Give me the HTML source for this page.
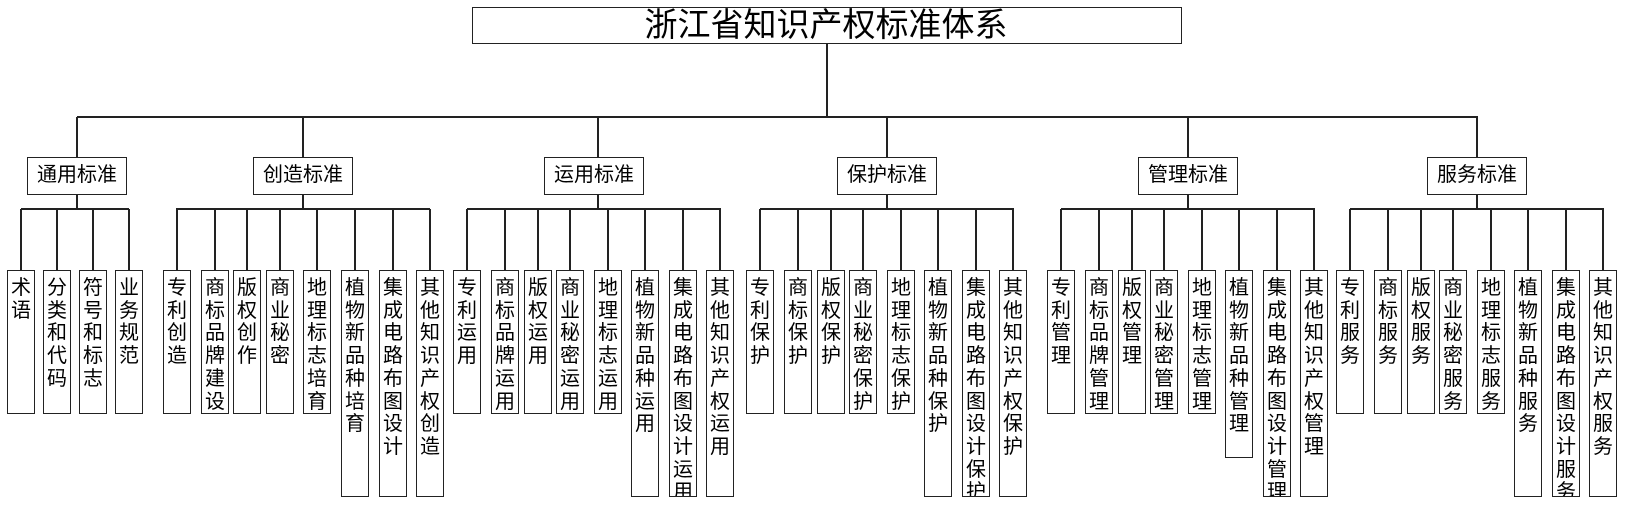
<!DOCTYPE html>
<html><head><meta charset="utf-8"><style>
body{margin:0;width:1626px;height:508px;background:#fff;position:relative;overflow:hidden;font-family:"Liberation Sans","Noto Sans CJK SC",sans-serif;color:#000}
div{position:absolute;box-sizing:border-box}
.b{border:1.5px solid #222;background:#fff}
.h{height:1.5px;background:#222}
.v{width:1.5px;background:#222}
.t{left:472px;top:7px;width:710px;height:37px;font-size:33px;line-height:34px;text-align:center;padding-right:2px}
.c{top:157px;width:100px;height:38px;font-size:20px;line-height:35px;text-align:center}
.l{top:270px;width:28px;font-size:20px;line-height:22.7px;text-align:center;padding-top:6px;word-break:break-all;overflow:hidden}
.s{height:144px}.m{height:188px}.g{height:227px}
</style></head><body>
<div class="b t">浙江省知识产权标准体系</div>
<div class="v" style="left:826px;top:44px;height:73px"></div>
<div class="h" style="left:77px;top:116px;width:1401px"></div>
<div class="v" style="left:76px;top:117px;height:40px"></div>
<div class="v" style="left:302px;top:117px;height:40px"></div>
<div class="v" style="left:597px;top:117px;height:40px"></div>
<div class="v" style="left:886px;top:117px;height:40px"></div>
<div class="v" style="left:1187px;top:117px;height:40px"></div>
<div class="v" style="left:1476px;top:117px;height:40px"></div>
<div class="b c" style="left:27px">通用标准</div>
<div class="b c" style="left:253px">创造标准</div>
<div class="b c" style="left:544px">运用标准</div>
<div class="b c" style="left:837px">保护标准</div>
<div class="b c" style="left:1138px">管理标准</div>
<div class="b c" style="left:1427px">服务标准</div>
<div class="v" style="left:76px;top:195px;height:14px"></div>
<div class="v" style="left:302px;top:195px;height:14px"></div>
<div class="v" style="left:597px;top:195px;height:14px"></div>
<div class="v" style="left:886px;top:195px;height:14px"></div>
<div class="v" style="left:1187px;top:195px;height:14px"></div>
<div class="v" style="left:1476px;top:195px;height:14px"></div>
<div class="h" style="left:21px;top:208px;width:108px"></div>
<div class="h" style="left:176px;top:208px;width:254px"></div>
<div class="h" style="left:467px;top:208px;width:254px"></div>
<div class="h" style="left:760px;top:208px;width:254px"></div>
<div class="h" style="left:1061px;top:208px;width:254px"></div>
<div class="h" style="left:1350px;top:208px;width:254px"></div>
<div class="v" style="left:20px;top:209px;height:61px"></div>
<div class="v" style="left:56px;top:209px;height:61px"></div>
<div class="v" style="left:92px;top:209px;height:61px"></div>
<div class="v" style="left:128px;top:209px;height:61px"></div>
<div class="v" style="left:176px;top:209px;height:61px"></div>
<div class="v" style="left:214px;top:209px;height:61px"></div>
<div class="v" style="left:246px;top:209px;height:61px"></div>
<div class="v" style="left:279px;top:209px;height:61px"></div>
<div class="v" style="left:316px;top:209px;height:61px"></div>
<div class="v" style="left:354px;top:209px;height:61px"></div>
<div class="v" style="left:392px;top:209px;height:61px"></div>
<div class="v" style="left:429px;top:209px;height:61px"></div>
<div class="v" style="left:466px;top:209px;height:61px"></div>
<div class="v" style="left:504px;top:209px;height:61px"></div>
<div class="v" style="left:537px;top:209px;height:61px"></div>
<div class="v" style="left:569px;top:209px;height:61px"></div>
<div class="v" style="left:607px;top:209px;height:61px"></div>
<div class="v" style="left:644px;top:209px;height:61px"></div>
<div class="v" style="left:682px;top:209px;height:61px"></div>
<div class="v" style="left:719px;top:209px;height:61px"></div>
<div class="v" style="left:759px;top:209px;height:61px"></div>
<div class="v" style="left:797px;top:209px;height:61px"></div>
<div class="v" style="left:830px;top:209px;height:61px"></div>
<div class="v" style="left:862px;top:209px;height:61px"></div>
<div class="v" style="left:900px;top:209px;height:61px"></div>
<div class="v" style="left:937px;top:209px;height:61px"></div>
<div class="v" style="left:975px;top:209px;height:61px"></div>
<div class="v" style="left:1012px;top:209px;height:61px"></div>
<div class="v" style="left:1060px;top:209px;height:61px"></div>
<div class="v" style="left:1098px;top:209px;height:61px"></div>
<div class="v" style="left:1131px;top:209px;height:61px"></div>
<div class="v" style="left:1163px;top:209px;height:61px"></div>
<div class="v" style="left:1201px;top:209px;height:61px"></div>
<div class="v" style="left:1238px;top:209px;height:61px"></div>
<div class="v" style="left:1276px;top:209px;height:61px"></div>
<div class="v" style="left:1313px;top:209px;height:61px"></div>
<div class="v" style="left:1349px;top:209px;height:61px"></div>
<div class="v" style="left:1387px;top:209px;height:61px"></div>
<div class="v" style="left:1420px;top:209px;height:61px"></div>
<div class="v" style="left:1452px;top:209px;height:61px"></div>
<div class="v" style="left:1490px;top:209px;height:61px"></div>
<div class="v" style="left:1527px;top:209px;height:61px"></div>
<div class="v" style="left:1565px;top:209px;height:61px"></div>
<div class="v" style="left:1602px;top:209px;height:61px"></div>
<div class="b l s" style="left:7px">术语</div>
<div class="b l s" style="left:43px">分类和代码</div>
<div class="b l s" style="left:79px">符号和标志</div>
<div class="b l s" style="left:115px">业务规范</div>
<div class="b l s" style="left:163px">专利创造</div>
<div class="b l s" style="left:201px">商标品牌建设</div>
<div class="b l s" style="left:233px">版权创作</div>
<div class="b l s" style="left:266px">商业秘密</div>
<div class="b l s" style="left:303px">地理标志培育</div>
<div class="b l g" style="left:341px">植物新品种培育</div>
<div class="b l g" style="left:379px">集成电路布图设计</div>
<div class="b l g" style="left:416px">其他知识产权创造</div>
<div class="b l s" style="left:453px">专利运用</div>
<div class="b l s" style="left:491px">商标品牌运用</div>
<div class="b l s" style="left:524px">版权运用</div>
<div class="b l s" style="left:556px">商业秘密运用</div>
<div class="b l s" style="left:594px">地理标志运用</div>
<div class="b l g" style="left:631px">植物新品种运用</div>
<div class="b l g" style="left:669px">集成电路布图设计运用</div>
<div class="b l g" style="left:706px">其他知识产权运用</div>
<div class="b l s" style="left:746px">专利保护</div>
<div class="b l s" style="left:784px">商标保护</div>
<div class="b l s" style="left:817px">版权保护</div>
<div class="b l s" style="left:849px">商业秘密保护</div>
<div class="b l s" style="left:887px">地理标志保护</div>
<div class="b l g" style="left:924px">植物新品种保护</div>
<div class="b l g" style="left:962px">集成电路布图设计保护</div>
<div class="b l g" style="left:999px">其他知识产权保护</div>
<div class="b l s" style="left:1047px">专利管理</div>
<div class="b l s" style="left:1085px">商标品牌管理</div>
<div class="b l s" style="left:1118px">版权管理</div>
<div class="b l s" style="left:1150px">商业秘密管理</div>
<div class="b l s" style="left:1188px">地理标志管理</div>
<div class="b l m" style="left:1225px">植物新品种管理</div>
<div class="b l g" style="left:1263px">集成电路布图设计管理</div>
<div class="b l g" style="left:1300px">其他知识产权管理</div>
<div class="b l s" style="left:1336px">专利服务</div>
<div class="b l s" style="left:1374px">商标服务</div>
<div class="b l s" style="left:1407px">版权服务</div>
<div class="b l s" style="left:1439px">商业秘密服务</div>
<div class="b l s" style="left:1477px">地理标志服务</div>
<div class="b l g" style="left:1514px">植物新品种服务</div>
<div class="b l g" style="left:1552px">集成电路布图设计服务</div>
<div class="b l g" style="left:1589px">其他知识产权服务</div>
</body></html>
